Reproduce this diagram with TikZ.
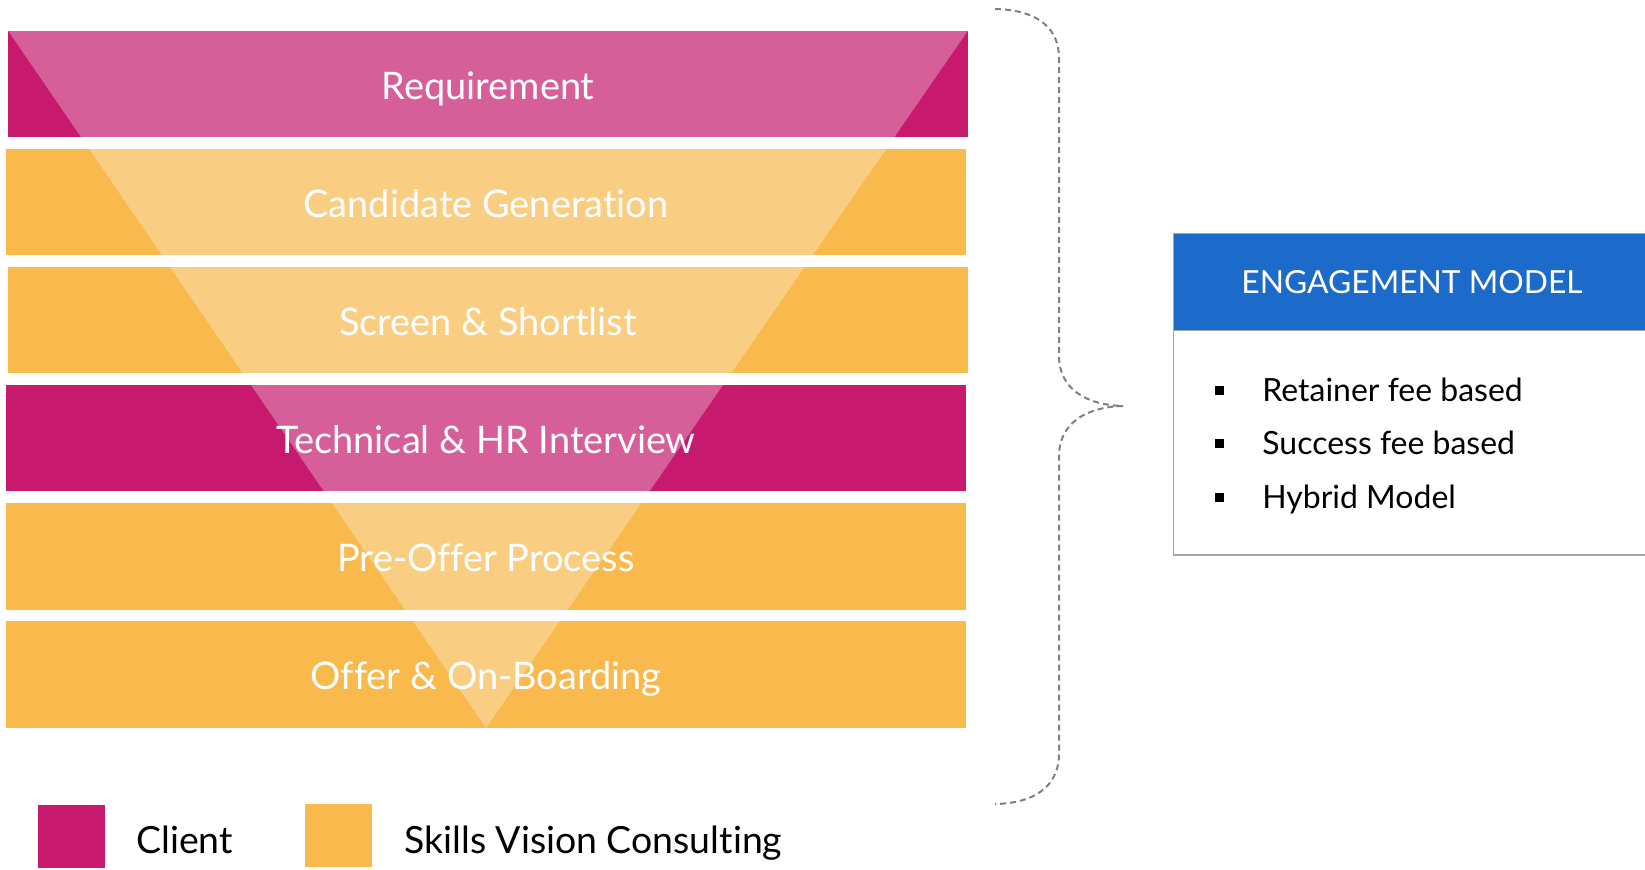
\documentclass[tikz,border=0pt]{standalone}
\usepackage{fontspec}
\setmainfont{Lato}[Ligatures=NoCommon]
\usetikzlibrary{positioning}
\definecolor{client}{RGB}{199,26,110}
\definecolor{svc}{RGB}{249,185,77}
\definecolor{engblue}{RGB}{28,106,201}
\definecolor{boxgray}{RGB}{166,166,166}
\definecolor{bracegray}{RGB}{128,128,128}

\begin{document}
\begin{tikzpicture}[x=0.02cm,y=-0.02cm,
band/.style={rectangle,minimum width=19.2cm,minimum height=2.14cm,inner sep=0pt,text=white,
    font=\fontsize{21.6pt}{25pt}\selectfont,text height=17.5pt,text depth=0pt},
item/.style={anchor=west,inner sep=0pt,font=\fontsize{18.2pt}{21pt}\selectfont,text height=13.1pt,text depth=0pt},
sqbullet/.style={fill=black,minimum size=0.18cm,inner sep=0pt},
keybox/.style={minimum width=1.34cm,minimum height=1.26cm,inner sep=0pt},
keytext/.style={anchor=base west,inner sep=0pt,font=\fontsize{21.3pt}{25pt}\selectfont}]
\clip (0,0) rectangle (1645,869);

% funnel stages
\node (req) [band,fill=client] at (488,84) {Requirement};
\node (cand) [band,fill=svc] at (486,202) {Candidate Generation};
\node (screen) [band,fill=svc] at (488,320) {Screen \& Shortlist};
\node (tech) [band,fill=client] at (486,438) {Technical \& HR Interview};
\node (preoffer) [band,fill=svc] at (486,556) {Pre-Offer Process};
\node (offer) [band,fill=svc] at (486,674) {Offer \& On-Boarding};
\fill [white,fill opacity=0.3] (req.north west) -- (req.north east) -- (offer.south) -- cycle;

% brace
\coordinate (bracetop) at (995,9);
\coordinate (bracetip) at (1123,406);
\coordinate (bracebot) at (995,804);
\draw [bracegray,dash pattern=on 0.12cm off 0.08cm,line width=0.04cm]
    (bracetop) .. controls (1040,10) and (1059,30) .. (1059,58) -- (1059,356)
    .. controls (1059,388) and (1085,405) .. (bracetip)
    .. controls (1085,407) and (1059,424) .. (1059,456) -- (1059,754)
    .. controls (1059,782) and (1040,803) .. (bracebot);

% engagement model
\node (engmodel) [fill=engblue,minimum width=9.52cm,minimum height=1.92cm,inner sep=0pt,text=white,
    font=\fontsize{18.1pt}{21pt}\selectfont,text height=13.5pt,text depth=0pt] at (1412,282) {ENGAGEMENT MODEL};
\coordinate (boxcorner) at (1650,555);
\draw [boxgray,line width=0.03cm] (engmodel.north west) rectangle (boxcorner);
\draw [boxgray,line width=0.03cm] (engmodel.south west) -- (engmodel.south east);
\node (retainer) [item] at (1262,390) {Retainer fee based};
\node (success) [item] at (1262,443) {Success fee based};
\node (hybrid) [item] at (1262,497) {Hybrid Model};
\node (retbullet) [sqbullet,left=0.75cm of retainer] {};
\node (sucbullet) [sqbullet,left=0.75cm of success] {};
\node (hybbullet) [sqbullet,left=0.75cm of hybrid] {};

% legend
\node (clientkey) [keybox,fill=client] at (71.5,836) {};
\node (svckey) [keybox,fill=svc] at (338.5,835) {};
\node (clienttxt) [keytext] at (136,853) {Client};
\node (svctxt) [keytext] at (404,853) {Skills Vision Consulting};
\end{tikzpicture}
\end{document}
